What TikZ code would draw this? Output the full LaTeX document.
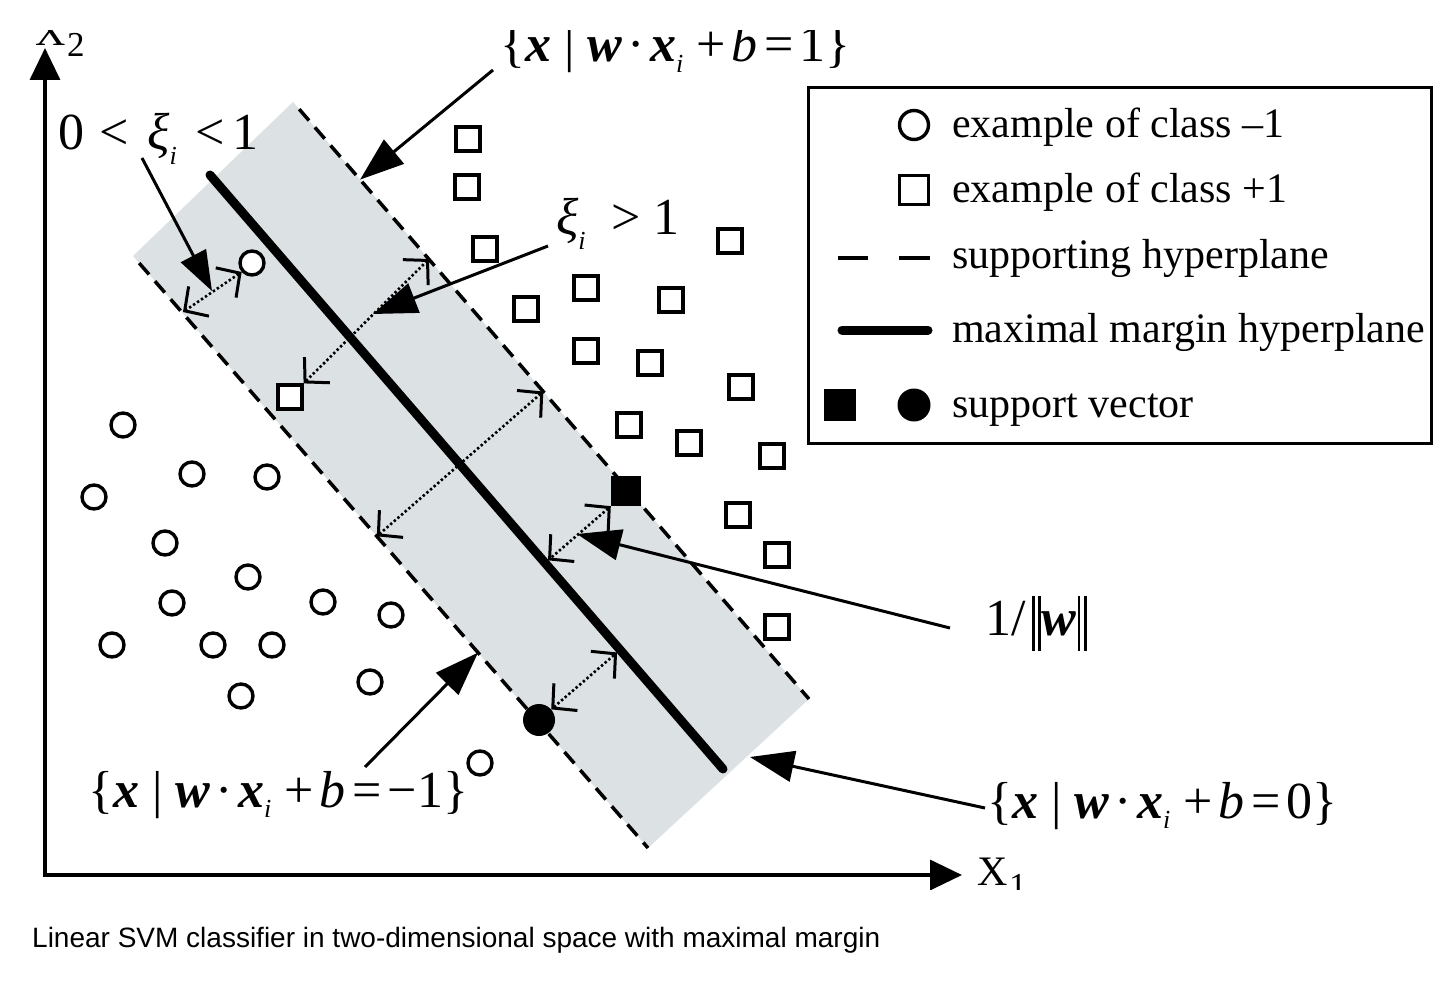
\documentclass[tikz,border=0pt]{standalone}
\usepackage{fontspec}
\setmainfont{Liberation Serif}
\newfontfamily\capfont{Liberation Sans}
\usetikzlibrary{arrows.meta,calc}
\definecolor{bandgray}{RGB}{220,225,228}
\newcommand{\bx}{\textbf{\textit{x}}}
\newcommand{\bw}{\textbf{\textit{w}}}
\newcommand{\lowi}[1]{\raisebox{#1}{\fontsize{26}{26}\selectfont\textit{i}}}
\newcommand{\hs}[1]{\hspace{#1em}}
\newcommand{\dbar}{\rule[-0.3em]{0.05em}{1.05em}\hspace{0.07em}\rule[-0.3em]{0.05em}{1.05em}}
\newcommand{\setlab}[1]{\{\bx\hs{0.25}|\hs{0.25}\bw\hs{0.1}·\hs{0.1}\bx\lowi{-0.2em}\hs{0.25}+\hs{0.12}\textit{b}\hs{0.12}=\hs{0.12}#1\}}
\tikzset{
  negex/.style={circle,draw,line width=3.4pt,minimum size=24pt,inner sep=0pt,fill=white},
  posex/.style={rectangle,draw,line width=3.2pt,minimum size=24pt,inner sep=0pt,fill=white},
  svsq/.style={rectangle,fill=black,minimum size=30pt,inner sep=0pt},
  svci/.style={circle,fill=black,minimum size=32pt,inner sep=0pt},
  supp/.style={line width=3.5pt,dash pattern=on 15pt off 9pt},
  maxm/.style={line width=9pt,line cap=round},
  barb/.tip={Straight Barb[length=17pt,width=36pt,line width=3pt]},
  dotarr/.style={line width=2.6pt,dash pattern=on 2.4pt off 2.4pt,barb-barb},
  lead/.style={line width=3pt,-{Triangle[length=44pt,width=31pt]}},
  axis/.style={line width=3.5pt,{Triangle[length=32pt,width=30pt]}-{Triangle[length=32pt,width=30pt]}},
  mathlab/.style={font=\fontsize{52}{60}\selectfont,inner sep=0pt,anchor=base west},
  legtext/.style={font=\fontsize{42}{50}\selectfont,inner sep=0pt,anchor=base west},
  axlab/.style={font=\fontsize{42}{48}\selectfont,inner sep=0pt,anchor=base west}
}
\begin{document}
\begin{tikzpicture}[x=1pt,y=-1pt]
\useasboundingbox (0,0) rectangle (1448,984);
\fill[white] (0,0) rectangle (1448,984);
\begin{scope}
\clip (0,31) rectangle (1448,889);
% band
\coordinate (T) at (293,102);
\coordinate (R) at (809,699);
\coordinate (B) at (648,848);
\coordinate (L) at (133,256);
\fill[bandgray] (T) -- (R) -- (B) -- (L) -- cycle;
\draw[supp] ($(T)!0.012!(R)$) -- (R);
\draw[supp] ($(L)!0.012!(B)$) -- (B);
\coordinate (C1) at (210,175);
\coordinate (C2) at (723,769);
\draw[maxm] (C1) -- (C2);

% axes
\coordinate (O) at (45,875);
\coordinate (Ytip) at (45,48);
\coordinate (Xtip) at (962,875);
\draw[axis] (Ytip) -- (O) -- (Xtip);
\node[axlab] (x2lab) at (35,46) {X\hs{0.04}\raisebox{-11pt}{\fontsize{35}{35}\selectfont 2}};
\node[axlab] (x1lab) at (977,885) {X\hs{0.04}\raisebox{-12pt}{\fontsize{35}{35}\selectfont 1}};

% class -1 examples
\foreach \px/\py [count=\i] in {123/425,192/474,267/477,94/497,165/543,248/577,172/603,323/602,391/615,112/645,213/645,272/645,241/696,370/682,480/763}
  \node[negex] (n\i) at (\px,\py) {};
% class +1 examples
\foreach \px/\py [count=\i] in {468/139,467/187,485/249,730/241,586/288,526/309,671/300,586/351,650/363,741/387,629/425,689/443,772/456,738/515,777/555,777/627}
  \node[posex] (p\i) at (\px,\py) {};

% slack examples
\node[negex] (sc) at (252,263) {};
\node[posex] (ss) at (290,397) {};
% support vectors
\node[svsq] (sq) at (626,491) {};
\node[svci] (sv) at (539,720) {};

% dotted distance arrows
\coordinate (a1e) at (183,312);
\draw[dotarr] (sc.221) -- (a1e);
\coordinate (a2e) at (429,259);
\draw[dotarr] (ss.north east) -- (a2e);
\coordinate (m3) at ($(T)!0.485!(R)$);
\coordinate (m3e) at ($(L)!(m3)!(B)$);
\draw[dotarr] (m3) -- (m3e);
\coordinate (a4e) at ($(C1)!(sq.south west)!(C2)$);
\draw[dotarr,shorten >=4pt] (sq.south west) -- (a4e);
\coordinate (a5e) at ($(C1)!(sv.41)!(C2)$);
\draw[dotarr,shorten >=4pt] (sv.41) -- (a5e);

% labels
\node[mathlab] (labU) at (500,62) {\setlab{1}};
\node[mathlab] (labA) at (58,150) {0\hs{0.3}<\hs{0.35}\textit{ξ}\lowi{-0.28em}\hs{0.35}<\hs{0.15}1};
\node[mathlab] (labB) at (556,235) {\textit{ξ}\lowi{-0.28em}\hs{0.5}>\hs{0.25}1};
\node[mathlab] (labW) at (985,635) {1/\hs{0.12}\dbar\hs{0.02}\bw\hs{0.02}\dbar};
\node[mathlab] (labZ) at (987,818) {\setlab{0}};
\node[mathlab] (labM) at (88,807) {\setlab{−1}};

% leaders
\coordinate (sU) at ($(labU.base west)+(-7,8)$);
\coordinate (tU) at ($(T)!0.13!(R)$);
\draw[lead] (sU) -- (tU);
\coordinate (sA) at (142,158);
\coordinate (tA) at (212,291);
\draw[lead,-{Triangle[length=40pt,width=28pt]}] (sA) -- (tA);
\coordinate (sB) at ($(labB.base west)+(-8,11)$);
\coordinate (tB) at (373,314);
\draw[lead] (sB) -- (tB);
\coordinate (sW) at ($(labW.base west)+(-35,-7)$);
\coordinate (tW) at (577,534);
\draw[lead] (sW) -- (tW);
\coordinate (sZ) at ($(labZ.base west)+(-2,-10)$);
\coordinate (tZ) at (750,757);
\draw[lead] (sZ) -- (tZ);
\coordinate (sM) at (365,767);
\coordinate (tM) at ($(L)!0.67!(B)$);
\draw[lead] (sM) -- (tM);

% legend
\node[draw,line width=3pt,minimum width=623pt,minimum height=356pt,anchor=north west,inner sep=0pt] (leg) at (807,86) {};
\node[negex,minimum size=29pt] (ls1) at (914,125) {};
\node[legtext] (lt1) at (952,138) {example of class –1};
\node[posex,minimum size=29pt] (ls2) at (914,190) {};
\node[legtext] (lt2) at (952,203) {example of class +1};
\draw[line width=3.5pt] (838,258) -- (868,258);
\draw[line width=3.5pt] (899,258) -- (930,258);
\node[legtext] (lt3) at (952,269) {supporting hyperplane};
\draw[maxm] (842,330) -- (928,330);
\node[legtext] (lt4) at (952,342) {maximal margin hyperplane};
\node[svsq,minimum size=32pt] (ls5a) at (840,405) {};
\node[svci,minimum size=33pt] (ls5b) at (914,405) {};
\node[legtext] (lt5) at (952,417) {support vector};
\end{scope}

% caption
\node[anchor=base west,inner sep=0pt,font=\capfont\fontsize{28}{34}\selectfont] (cap) at (32,947) {Linear SVM classifier in two-dimensional space with maximal margin};
\end{tikzpicture}
\end{document}
